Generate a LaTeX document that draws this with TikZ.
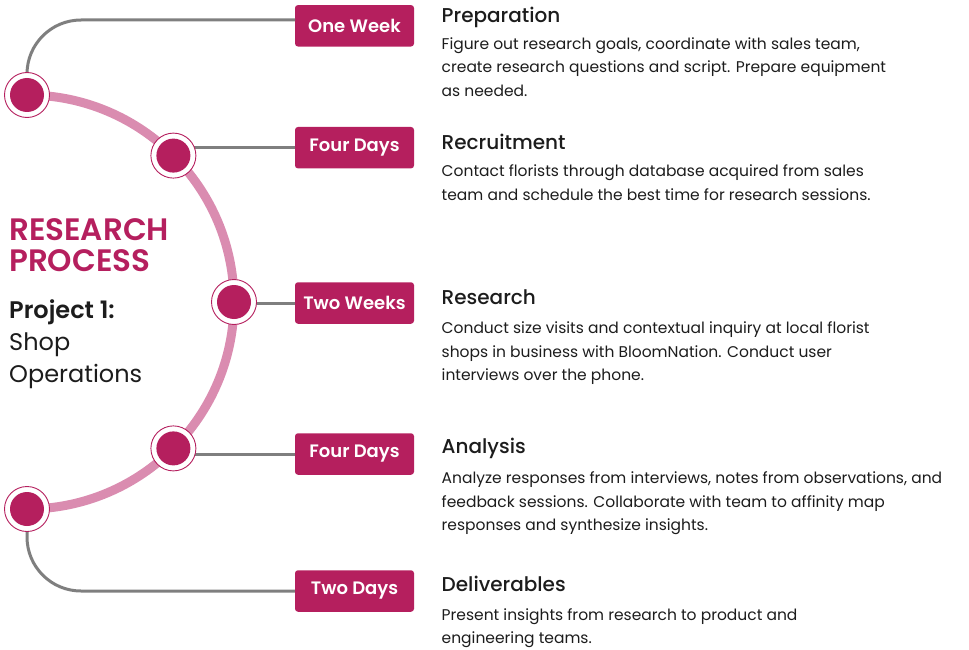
\documentclass[tikz,border=0pt]{standalone}
\usepackage{fontspec}
\setmainfont{Poppins}
\IfFontExistsTF{Poppins SemiBold}{\newfontfamily\semib{Poppins SemiBold}}{\newfontfamily\semib{Poppins}[UprightFont=*-Bold]}
\IfFontExistsTF{Poppins Medium}{\newfontfamily\medf{Poppins Medium}}{\newfontfamily\medf{Poppins}}
\definecolor{mag}{HTML}{B51F5E}
\definecolor{pinkarc}{HTML}{DA8CB0}
\definecolor{greyline}{HTML}{7F7F7F}
\definecolor{ink}{HTML}{1C1C1C}
\tikzset{
  conn/.style={draw=greyline, line width=3pt},
  dot/.style={circle, fill=white, draw=mag, line width=0.9pt, minimum size=45pt, inner sep=0pt},
  dotin/.style={circle, fill=mag, minimum size=34pt, inner sep=0pt},
  tag/.style={fill=mag, rounded corners=3pt, minimum width=119pt, minimum height=41.5pt, inner sep=0pt, text=white, font=\semib\fontsize{18}{20}\selectfont},
  head/.style={anchor=base west, inner sep=0pt, text=ink, font=\medf\fontsize{20}{24}\selectfont},
  body/.style={anchor=base west, inner sep=0pt, text=ink, font=\fontsize{15.5}{20}\selectfont},
  title/.style={anchor=base west, inner sep=0pt, text=mag, font=\semib\fontsize{31}{32}\selectfont},
  proj/.style={anchor=base west, inner sep=0pt, text=ink, font=\fontsize{24}{28}\selectfont},
}
\begin{document}
\begin{tikzpicture}[x=1pt,y=-1pt]
\useasboundingbox (0,0) rectangle (969,650);
% tags
\node[tag] (b1) at (354.5,25.8) {One Week};
\node[tag] (b2) at (354.5,147.7) {Four Days};
\node[tag] (b3) at (354.5,303) {Two Weeks};
\node[tag] (b4) at (354.5,454) {Four Days};
\node[tag] (b5) at (354.5,591) {Two Days};
% circle positions
\coordinate (p1) at (27,95);
\coordinate (p2) at (173.4,155.6);
\coordinate (p3) at (234,302);
\coordinate (p4) at (173.4,448.4);
\coordinate (p5) at (27,509);
\coordinate (k1) at (295,20);
% connectors
\draw[conn, rounded corners=54pt] (p1) |- (k1);
\draw[conn] (p2 |- b2.west) -- (b2.west);
\draw[conn] (p3 |- b3.west) -- (b3.west);
\draw[conn] (p4 |- b4.west) -- (b4.west);
\draw[conn, rounded corners=54pt] (p5) |- (b5.west);
% arc
\draw[pinkarc, line width=9pt] (p1) arc[start angle=-90, end angle=90, radius=207];
% dots
\foreach \i in {1,...,5}{
  \node[dot] (c\i) at (p\i) {};
  \node[dotin] (d\i) at (p\i) {};
}
% left title
\node[title] (t1) at (9,240) {RESEARCH};
\node[title] (t2) at (9,271.7) {PROCESS};
\node[proj, font=\semib\fontsize{24}{28}\selectfont] (t3) at (9,318) {Project 1:};
\node[proj] (t4) at (9,350) {Shop};
\node[proj] (t5) at (9,382.7) {Operations};
% right texts
\node[head] (h1) at (441.5,22.7) {Preparation};
\node[body] (h1a) at (441.5,49.3) {Figure out research goals, coordinate with sales team,};
\node[body] (h1b) at (441.5,73.0) {create research questions and script. Prepare equipment};
\node[body] (h1c) at (441.5,96.7) {as needed.};
\node[head] (h2) at (441.5,149.3) {Recruitment};
\node[body] (h2a) at (441.5,176.7) {Contact florists through database acquired from sales};
\node[body] (h2b) at (441.5,200.4) {team and schedule the best time for research sessions.};
\node[head] (h3) at (441.5,304) {Research};
\node[body] (h3a) at (441.5,333.3) {Conduct size visits and contextual inquiry at local florist};
\node[body] (h3b) at (441.5,357.0) {shops in business with BloomNation. Conduct user};
\node[body] (h3c) at (441.5,380.7) {interviews over the phone.};
\node[head] (h4) at (441.5,453) {Analysis};
\node[body] (h4a) at (441.5,483.3) {Analyze responses from interviews, notes from observations, and};
\node[body] (h4b) at (441.5,507.0) {feedback sessions. Collaborate with team to affinity map};
\node[body] (h4c) at (441.5,530.5) {responses and synthesize insights.};
\node[head] (h5) at (441.5,591.7) {Deliverables};
\node[body] (h5a) at (441.5,620) {Present insights from research to product and};
\node[body] (h5b) at (441.5,643) {engineering teams.};
\end{tikzpicture}
\end{document}
